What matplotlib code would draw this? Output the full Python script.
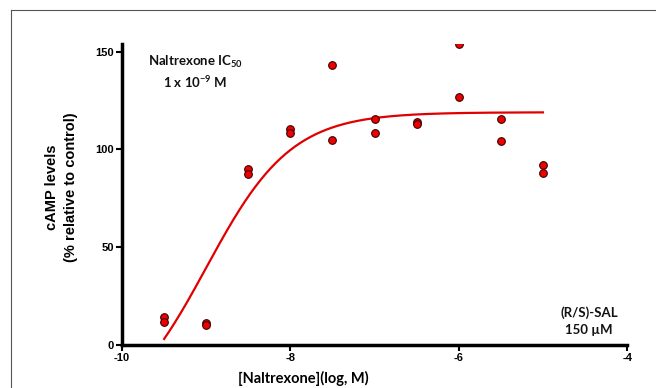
import numpy as np
import matplotlib.pyplot as plt
from matplotlib.lines import Line2D

plt.rcParams["axes.unicode_minus"] = False
plt.rcParams["mathtext.fontset"] = "custom"
plt.rcParams["mathtext.bf"] = "Lato:bold"
plt.rcParams["mathtext.rm"] = "Lato:bold"
plt.rcParams["mathtext.default"] = "bf"

# concentration (log M) and replicate cAMP values (% of control)
log_conc = [-9.5, -9.5, -9, -9, -8.5, -8.5, -8, -8, -7.5, -7.5,
            -7, -7, -6.5, -6.5, -6, -6, -5.5, -5.5, -5, -5]
camp = [14.5, 11.6, 11.0, 10.4, 90.0, 87.2, 110.6, 108.5, 143.0, 104.8,
        115.6, 108.2, 114.0, 113.2, 154.0, 126.6, 115.7, 104.1, 92.2, 87.9]

# fitted 4-parameter logistic curve
bottom, top, log_ic50, hill = -40.0, 119.0, -9.0, 0.86

xticks = [-10, -8, -6, -4]
yticks = [0, 50, 100, 150]

fig = plt.figure(figsize=(6.56, 3.88), dpi=100)
ax = fig.add_axes([0.186, 0.111, 0.77, 0.776])

xc = np.linspace(-9.5, -5, 300)
yc = bottom + (top - bottom) / (1 + 10 ** (hill * (log_ic50 - xc)))
ax.plot(xc, yc, color="#e00000", lw=1.6, zorder=2)
ax.plot(log_conc, camp, "o", ms=5.5, mfc="#ee0000", mec="#3a0000", mew=0.8, zorder=3)

ax.set_xlim(-10, -4)
ax.set_ylim(0, 154)
ax.set_xticks(xticks)
ax.set_yticks(yticks)
for s in ["top", "right"]:
    ax.spines[s].set_visible(False)
for s in ["left", "bottom"]:
    ax.spines[s].set_linewidth(2.5)
ax.tick_params(width=1.5, length=4, labelsize=8, pad=2)
for lab in ax.get_xticklabels() + ax.get_yticklabels():
    lab.set_fontweight("bold")
    lab.set_family("Liberation Sans")

ax.set_xlabel("[Naltrexone](log, M)", fontsize=10.5, fontweight="bold", family="Lato")
ax.xaxis.set_label_coords(0.358, -0.085)
ax.set_ylabel("cAMP levels\n(% relative to control)", fontsize=10.5, fontweight="bold",
              family="Liberation Sans", linespacing=1.45)
ax.yaxis.set_label_coords(-0.119, 0.525)
ax.yaxis.label.set_va("center")

ax.text(0.145, 0.94, "Naltrexone IC$_{50}$", transform=ax.transAxes, ha="center", va="center",
        fontsize=9.5, fontweight="bold", family="Lato", color="#111111")
ax.text(0.145, 0.874, "1 x 10$^{-9}$ M", transform=ax.transAxes, ha="center", va="center",
        fontsize=9.5, fontweight="bold", family="Lato", color="#111111")
ax.text(0.925, 0.106, "(R/S)-SAL", transform=ax.transAxes, ha="center", va="center",
        fontsize=9.5, fontweight="bold", family="Lato", color="#111111")
ax.text(0.925, 0.05, "150 \u00b5M", transform=ax.transAxes, ha="center", va="center",
        fontsize=9.5, fontweight="bold", family="Lato", color="#111111")

# frame edges of the original panel
fig.add_artist(Line2D([0.0168, 0.0168], [0, 0.974], transform=fig.transFigure, color="#555555", lw=0.8))
fig.add_artist(Line2D([0.0168, 1], [0.974, 0.974], transform=fig.transFigure, color="#555555", lw=0.8))

fig.savefig("out.png", dpi=100)
